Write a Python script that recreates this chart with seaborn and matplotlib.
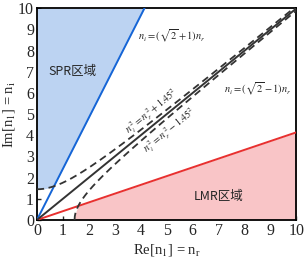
import numpy as np
import pandas as pd
import matplotlib
matplotlib.use("Agg")
import matplotlib.pyplot as plt
import seaborn as sns

# ---- data ----
n_sub = 1.45                      # substrate index in curve labels
slope_spr = np.sqrt(2) + 1        # upper boundary slope
slope_lmr = np.sqrt(2) - 1        # lower boundary slope
x_ticks = [0, 1, 2, 3, 4, 5, 6, 7, 8, 9, 10]
y_ticks = [0, 1, 2, 3, 4, 5, 6, 7, 8, 9, 10]
region_labels = ["SPR区域", "LMR区域"]
eq_labels = [r"$n_i=(\sqrt{2}+1)n_r$", r"$n_i=(\sqrt{2}-1)n_r$",
             r"$n_i^{\,2}=n_r^{\,2}+1.45^2$", r"$n_i^{\,2}=n_r^{\,2}-1.45^2$"]

nr = np.linspace(0, 10, 801)
upper_h = np.sqrt(nr**2 + n_sub**2)
nr_low = np.linspace(n_sub, 10, 801)
lower_h = np.sqrt(nr_low**2 - n_sub**2)

sns.set_style("ticks")
plt.rcParams['font.family'] = ['Liberation Serif', 'DejaVu Serif']
plt.rcParams['mathtext.fontset'] = 'stix'

fig = plt.figure(figsize=(3.05, 2.6), dpi=100)
ax = fig.add_axes([0.121, 0.154, 0.851, 0.814])

# fills
spr_low = np.maximum(slope_spr * nr, upper_h)
ax.fill_between(nr, spr_low, 10, where=spr_low <= 10, color="#bcd3f2", lw=0, zorder=1)
lmr_hi = np.minimum(slope_lmr * nr_low, lower_h)
ax.fill_between(nr_low, 0, lmr_hi, color="#f9c5c7", lw=0, zorder=1)

df_lines = pd.DataFrame({"nr": nr, "spr": slope_spr * nr, "lmr": slope_lmr * nr,
                         "diag": nr, "up": upper_h})
df_low = pd.DataFrame({"nr": nr_low, "low": lower_h})

sns.lineplot(data=df_lines, x="nr", y="spr", color="#1565d6", lw=1.4, ax=ax, zorder=3)
sns.lineplot(data=df_lines, x="nr", y="lmr", color="#e8302f", lw=1.4, ax=ax, zorder=3)
sns.lineplot(data=df_lines, x="nr", y="diag", color="#333333", lw=1.4, ax=ax, zorder=3)
sns.lineplot(data=df_lines, x="nr", y="up", color="#333333", lw=1.3, ls=(0, (4, 2.5)), ax=ax, zorder=3)
sns.lineplot(data=df_low, x="nr", y="low", color="#333333", lw=1.3, ls=(0, (4, 2.5)), ax=ax, zorder=3)

ax.set_xlim(0, 10)
ax.set_ylim(0, 10)
ax.set_xticks(x_ticks)
ax.set_yticks(y_ticks)
ax.tick_params(direction="in", length=3, width=1, labelsize=11.5, pad=2)
for s in ax.spines.values():
    s.set_linewidth(1.3)
    s.set_color("black")
    s.set_visible(True)

ax.set_xlabel(r"Re[n$_1$] = n$_\mathregular{r}$", fontsize=10.5, labelpad=2)
ax.set_ylabel(r"Im[n$_1$] = n$_\mathregular{i}$", fontsize=10.5, labelpad=1)

cjk = ['Noto Sans CJK SC', 'DejaVu Sans']
ax.text(1.39, 7.0, region_labels[0], family=cjk, fontsize=9, ha="center", va="center", zorder=5)
ax.text(7.0, 1.1, region_labels[1], family=cjk, fontsize=9, ha="center", va="center", zorder=5)

ax.text(3.9, 8.7, eq_labels[0], fontsize=7.5, ha="left", va="center", zorder=5)
ax.text(8.5, 6.2, eq_labels[1], fontsize=7.5, ha="center", va="center", zorder=5)
ax.text(3.55, 4.05, eq_labels[2], fontsize=7.3, ha="left", va="baseline",
        rotation=39, rotation_mode="anchor", zorder=5)
ax.text(4.23, 3.15, eq_labels[3], fontsize=7.3, ha="left", va="baseline",
        rotation=39, rotation_mode="anchor", zorder=5)

fig.savefig("out.png", dpi=100)
